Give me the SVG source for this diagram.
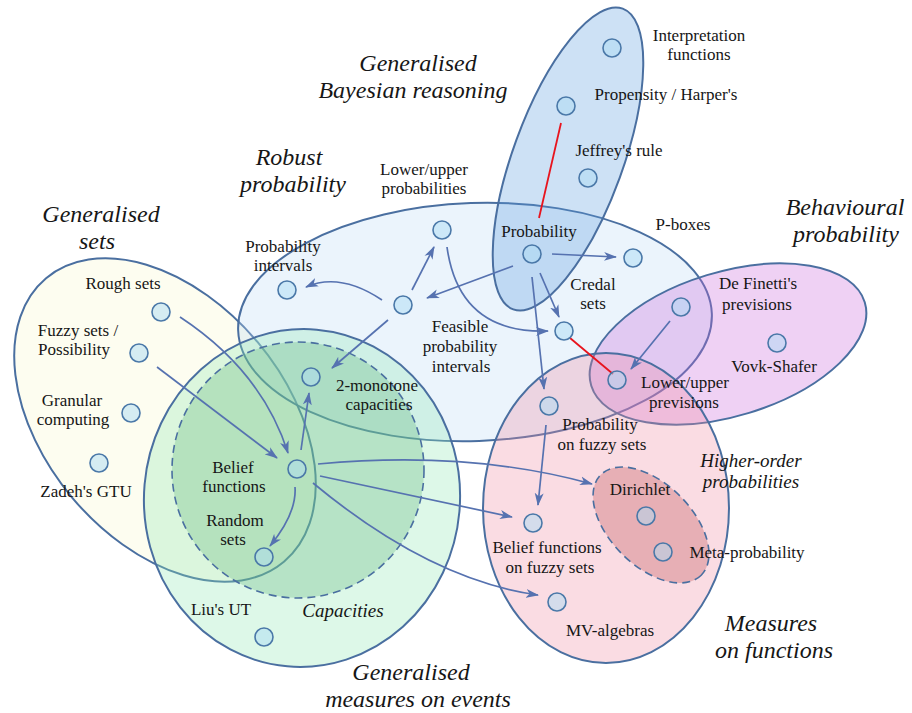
<svg xmlns="http://www.w3.org/2000/svg" width="912" height="713" viewBox="0 0 912 713">
<defs>
<style>
.reg{stroke:#4a6fa0;stroke-width:2;}
.ov{fill-opacity:0.3;}
.nd{fill:#addcf3;fill-opacity:0.5;stroke:#4a78a8;stroke-width:1.6;}
.cn{fill:none;stroke:#5672b0;stroke-width:1.7;marker-end:url(#ah);}
.red{fill:none;stroke:#e8141e;stroke-width:1.8;}
.lb{font-family:"Liberation Serif","Times New Roman",serif;font-size:17px;fill:#161616;text-anchor:middle;}
.it{font-family:"Liberation Serif","Times New Roman",serif;font-style:italic;font-size:19px;fill:#161616;text-anchor:middle;}
.tt{font-family:"Liberation Serif","Times New Roman",serif;font-style:italic;font-size:24px;fill:#161616;text-anchor:middle;}
</style>
<marker id="ah" markerUnits="userSpaceOnUse" markerWidth="13" markerHeight="10" refX="12" refY="5" orient="auto">
<path d="M0,0.5 L13,5 L0,9.5 L3.5,5 z" fill="#5672b0"/>
</marker>
</defs>
<rect width="912" height="713" fill="#ffffff"/>
<g id="regions">
<ellipse id="generalised-sets" class="reg" cx="165" cy="420" rx="185" ry="121" transform="rotate(50 165 420)" fill="#fdfdf0"/>
<ellipse id="robust-probability" class="reg ov" cx="475" cy="322" rx="237" ry="119" transform="rotate(-2 475 322)" fill="#bcdaf5"/>
<ellipse id="generalised-measures" class="reg ov" cx="302" cy="498" rx="158" ry="169" transform="rotate(5 302 498)" fill="#8ee8b2"/>
<ellipse id="capacities" class="ov" cx="298" cy="470" rx="126" ry="128" fill="#5eb277" stroke="#4a6fa0" stroke-width="1.6" stroke-dasharray="8,5"/>
<ellipse id="bayesian" class="reg ov" cx="568" cy="159" rx="55" ry="160" transform="rotate(20 568 159)" fill="#589bde"/>
<ellipse id="behavioural" class="reg ov" cx="728" cy="344" rx="143" ry="72" transform="rotate(-17 728 344)" fill="#ca66da"/>
<ellipse id="measures-functions" class="reg ov" cx="606" cy="508" rx="123" ry="155" fill="#ee8aa2"/>
<ellipse id="higher-order" class="ov" cx="651" cy="525" rx="71" ry="41" transform="rotate(45 651 525)" fill="#be494d" stroke="#4a6fa0" stroke-width="1.6" stroke-dasharray="8,5"/>
</g>
<g id="region-titles">
<text class="tt" x="418" y="71">Generalised</text>
<text class="tt" x="413" y="98">Bayesian reasoning</text>
<text class="tt" x="289" y="165">Robust</text>
<text class="tt" x="293" y="192">probability</text>
<text class="tt" x="101" y="222">Generalised</text>
<text class="tt" x="97" y="249">sets</text>
<text class="tt" x="845" y="215">Behavioural</text>
<text class="tt" x="846" y="242">probability</text>
<text class="tt" x="771" y="631">Measures</text>
<text class="tt" x="774" y="658">on functions</text>
<text class="tt" x="411" y="680">Generalised</text>
<text class="tt" x="418" y="707">measures on events</text>
<text class="it" x="343" y="617">Capacities</text>
<text class="it" x="751" y="467">Higher-order</text>
<text class="it" x="751" y="488">probabilities</text>
</g>
<g id="connectors">
<path class="cn" d="M180,317 Q262,371 288,453"/>
<path class="cn" d="M157,367 L277,458"/>
<path class="cn" d="M301,450 L309,393"/>
<path class="cn" d="M295,487 Q297,513 270,546"/>
<path class="cn" d="M388,320 L332,368"/>
<path class="cn" d="M382,300 Q340,272 306,287"/>
<path class="cn" d="M412,290 L434,247"/>
<path class="cn" d="M513,266 L427,298"/>
<path class="cn" d="M447,247 Q459,334 548,331"/>
<path class="cn" d="M552,254 L616,257"/>
<path class="cn" d="M540,273 L559,317"/>
<path class="cn" d="M532,277 L544,389"/>
<path class="cn" d="M670,321 L631,369"/>
<path class="cn" d="M546,425 L538,505"/>
<path class="cn" d="M318,464 Q470,450 592,484"/>
<path class="cn" d="M320,476 L512,517"/>
<path class="cn" d="M313,483 Q430,580 538,595"/>
<path class="red" d="M570,338 L613,374"/>
<path class="red" d="M561,123 L539,218"/>
</g>
<g id="n-interpretation"><circle class="nd" cx="612" cy="48" r="9"/><text class="lb" x="699" y="41">Interpretation</text><text class="lb" x="699" y="60">functions</text></g>
<g id="n-propensity"><circle class="nd" cx="566" cy="106" r="9"/><text class="lb" x="666" y="100">Propensity / Harper's</text></g>
<g id="n-jeffrey"><circle class="nd" cx="588" cy="178" r="9"/><text class="lb" x="619" y="156">Jeffrey's rule</text></g>
<g id="n-probability"><circle class="nd" cx="532" cy="254" r="9"/><text class="lb" x="539" y="237">Probability</text></g>
<g id="n-pboxes"><circle class="nd" cx="633" cy="258" r="9"/><text class="lb" x="683" y="230">P-boxes</text></g>
<g id="n-credal"><circle class="nd" cx="564" cy="331" r="9"/><text class="lb" x="593" y="290">Credal</text><text class="lb" x="593" y="309">sets</text></g>
<g id="n-lowerupper-prob"><circle class="nd" cx="442" cy="230" r="9"/><text class="lb" x="424" y="175">Lower/upper</text><text class="lb" x="424" y="194">probabilities</text></g>
<g id="n-prob-intervals"><circle class="nd" cx="287" cy="290" r="9"/><text class="lb" x="283" y="252">Probability</text><text class="lb" x="283" y="271">intervals</text></g>
<g id="n-feasible"><circle class="nd" cx="403" cy="305" r="9"/><text class="lb" x="460" y="332">Feasible</text><text class="lb" x="460" y="352">probability</text><text class="lb" x="461" y="372">intervals</text></g>
<g id="n-2monotone"><circle class="nd" cx="311" cy="377" r="9"/><text class="lb" x="377" y="391">2-monotone</text><text class="lb" x="379" y="410">capacities</text></g>
<g id="n-rough"><circle class="nd" cx="161" cy="312" r="9"/><text class="lb" x="123" y="289">Rough sets</text></g>
<g id="n-fuzzy"><circle class="nd" cx="139" cy="353" r="9"/><text class="lb" x="78" y="336">Fuzzy sets /</text><text class="lb" x="74" y="355">Possibility</text></g>
<g id="n-granular"><circle class="nd" cx="131" cy="413" r="9"/><text class="lb" x="72" y="406">Granular</text><text class="lb" x="73" y="425">computing</text></g>
<g id="n-gtu"><circle class="nd" cx="99" cy="463" r="9"/><text class="lb" x="86" y="497">Zadeh's GTU</text></g>
<g id="n-belief"><circle class="nd" cx="297" cy="469" r="9"/><text class="lb" x="233" y="473">Belief</text><text class="lb" x="234" y="492">functions</text></g>
<g id="n-random"><circle class="nd" cx="264" cy="557" r="9"/><text class="lb" x="235" y="526">Random</text><text class="lb" x="233" y="545">sets</text></g>
<g id="n-liu"><circle class="nd" cx="264" cy="637" r="9"/><text class="lb" x="221" y="615">Liu's UT</text></g>
<g id="n-definetti"><circle class="nd" cx="681" cy="307" r="9"/><text class="lb" x="758" y="289">De Finetti's</text><text class="lb" x="757" y="310">previsions</text></g>
<g id="n-vovk"><circle class="nd" cx="777" cy="343" r="9"/><text class="lb" x="774" y="372">Vovk-Shafer</text></g>
<g id="n-lowerupper-prev"><circle class="nd" cx="617" cy="380" r="9"/><text class="lb" x="685" y="388">Lower/upper</text><text class="lb" x="684" y="408">previsions</text></g>
<g id="n-prob-fuzzy"><circle class="nd" cx="549" cy="406" r="9"/><text class="lb" x="600" y="430">Probability</text><text class="lb" x="602" y="450">on fuzzy sets</text></g>
<g id="n-dirichlet"><circle class="nd" cx="646" cy="516" r="9"/><text class="lb" x="640" y="495">Dirichlet</text></g>
<g id="n-meta"><circle class="nd" cx="663" cy="552" r="9"/><text class="lb" x="747" y="558">Meta-probability</text></g>
<g id="n-belief-fuzzy"><circle class="nd" cx="533" cy="523" r="9"/><text class="lb" x="547" y="553">Belief functions</text><text class="lb" x="550" y="573">on fuzzy sets</text></g>
<g id="n-mv"><circle class="nd" cx="557" cy="602" r="9"/><text class="lb" x="610" y="636">MV-algebras</text></g>
</svg>
